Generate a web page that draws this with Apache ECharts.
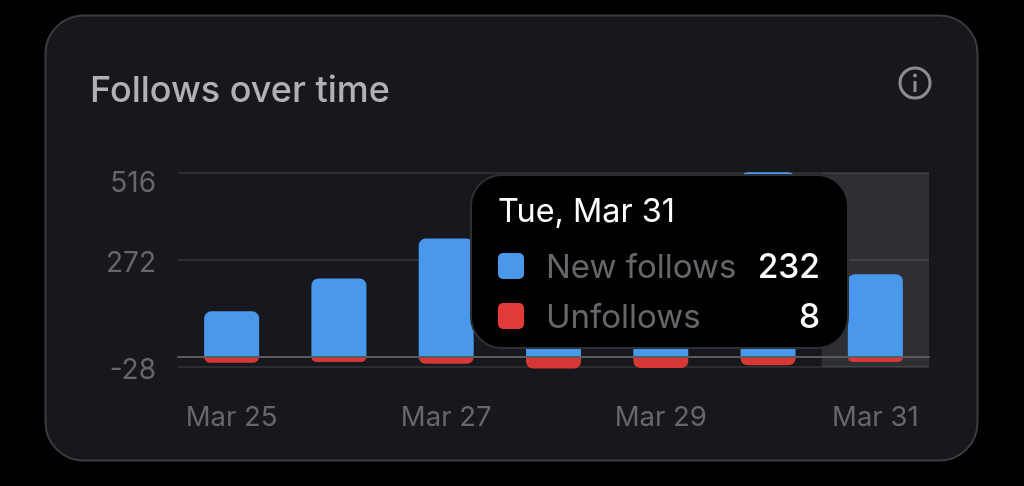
<!DOCTYPE html>
<html>
<head>
<meta charset="utf-8">
<title>Follows over time</title>
<style>
	html, body { margin: 0; padding: 0; background: #000; }
	#main { width: 1024px; height: 486px; }
	.tip-title { color: #fff; font-size: 32.4px; line-height: 40px; margin-bottom: 10px; }
	.tip-row { display: flex; align-items: center; height: 50px; }
	.tip-box { width: 26px; height: 26px; border-radius: 5px; margin-right: 22px; }
	.tip-name { color: #66676b; flex: 1; font-size: 33px; }
	.tip-value { color: #fff; font-size: 33.5px; font-weight: 500; }
</style>
</head>
<body>
<div id="main"></div>
<script src="https://cdn.jsdelivr.net/npm/echarts@6/dist/echarts.min.js"></script>
<script>
const categories = ['Mar 25', 'Mar 26', 'Mar 27', 'Mar 28', 'Mar 29', 'Mar 30', 'Mar 31'];
const fullDates = ['Wed, Mar 25', 'Thu, Mar 26', 'Fri, Mar 27', 'Sat, Mar 28', 'Sun, Mar 29', 'Mon, Mar 30', 'Tue, Mar 31'];
const newFollows = [128, 220, 332, 300, 260, 518, 232];
const unfollows = [16, 14, 19, 32, 31, 23, 8];
const yTicks = [-28, 272, 516];

(function() {
	const font = 'Inter, "Noto Sans", sans-serif';
	let myChart = echarts.init(document.getElementById('main'));

	let option = {
		backgroundColor: '#000',
		animation: false,
		textStyle: { fontFamily: font },
		title: {
			text: 'Follows over time',
			left: 90,
			top: 73,
			padding: 0,
			textStyle: { color: '#b0b1b5', fontSize: 36, fontWeight: 500, fontFamily: font }
		},
		// card and info icon
		graphic: [
			{
				type: 'rect',
				z: -10,
				shape: { x: 45.5, y: 15.5, width: 932, height: 445, r: 38 },
				style: { fill: '#17181d', stroke: '#3b3c41', lineWidth: 2 }
			},
			{
				type: 'circle',
				z: 10,
				shape: { cx: 915, cy: 83, r: 15 },
				style: { fill: 'none', stroke: '#8c8d91', lineWidth: 3 }
			},
			{
				type: 'rect',
				z: 10,
				shape: { x: 913.5, y: 81, width: 3, height: 11 },
				style: { fill: '#8c8d91' }
			},
			{
				type: 'circle',
				z: 10,
				shape: { cx: 915, cy: 75.5, r: 2 },
				style: { fill: '#8c8d91' }
			}
		],
		grid: { left: 178, right: 95, top: 173, bottom: 119 },
		tooltip: {
			trigger: 'axis',
			alwaysShowContent: true,
			transitionDuration: 0,
			axisPointer: {
				type: 'shadow',
				z: 1,
				shadowStyle: { color: 'rgba(255, 255, 255, 0.1)' }
			},
			position: [470, 174],
			padding: 0,
			backgroundColor: 'transparent',
			borderWidth: 0,
			extraCssText: 'box-shadow: none;',
			formatter: function(params) {
				let i = params[0].dataIndex;
				return '<div style="box-sizing:border-box;width:379px;height:175px;padding:15px 27px 15px 26px;background:#000;border:2px solid #2e2f33;border-radius:32px;font-family:Inter,sans-serif;">' +
					'<div class="tip-title">' + fullDates[i] + '</div>' +
					'<div class="tip-row"><span class="tip-box" style="background:#4a98eb"></span><span class="tip-name">New follows</span><span class="tip-value">' + newFollows[i] + '</span></div>' +
					'<div class="tip-row"><span class="tip-box" style="background:#e23b38"></span><span class="tip-name">Unfollows</span><span class="tip-value">' + unfollows[i] + '</span></div>' +
					'</div>';
			}
		},
		xAxis: {
			type: 'category',
			data: categories,
			z: 5,
			axisTick: { show: false },
			axisLine: { lineStyle: { color: '#5a5b5f', width: 2 } },
			axisLabel: { color: '#66676b', fontSize: 27.5, interval: 1, margin: 37 }
		},
		yAxis: {
			type: 'value',
			min: -28,
			max: 516,
			axisLabel: {
				color: '#66676b',
				fontSize: 28,
				margin: 22,
				customValues: yTicks,
				// the top label sits lower under its grid line
				formatter: function(v) {
					return v === 516 ? '{top|' + v + '}' : '{mid|' + v + '}';
				},
				rich: {
					top: { color: '#66676b', fontSize: 28, padding: [22, 0, 0, 0] },
					mid: { color: '#66676b', fontSize: 28, padding: [8, 0, 0, 0] }
				}
			},
			axisTick: { show: false, customValues: yTicks },
			axisLine: { show: false },
			splitLine: { lineStyle: { color: '#2c2d31', width: 2 } }
		},
		series: [
			{
				name: 'New follows',
				type: 'bar',
				stack: 'follows',
				clip: false,
				barWidth: 55,
				emphasis: { disabled: true },
				itemStyle: { color: '#4a98eb', borderRadius: [7, 7, 0, 0] },
				data: newFollows
			},
			{
				name: 'Unfollows',
				type: 'bar',
				stack: 'follows',
				clip: false,
				barWidth: 55,
				barMinHeight: 5,
				emphasis: { disabled: true },
				itemStyle: { color: '#d63835', borderRadius: [0, 0, 7, 7] },
				data: unfollows.map(function(v) { return -v; })
			}
		]
	};

	myChart.setOption(option);
	myChart.dispatchAction({ type: 'showTip', seriesIndex: 0, dataIndex: 6 });

	window.addEventListener('resize', function() {
		myChart.resize();
	});
})();
</script>
</body>
</html>
